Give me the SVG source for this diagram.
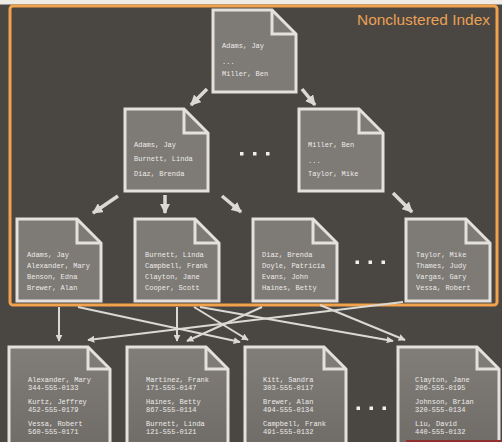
<svg xmlns="http://www.w3.org/2000/svg" width="502" height="442" viewBox="0 0 502 442">
<style>
.page{fill:#7e7a76;stroke:#e4e1dc;stroke-width:3;stroke-linejoin:miter}
.page4{fill:url(#g4);stroke:#e4e1dc;stroke-width:3}
.fold{fill:none;stroke:#e4e1dc;stroke-width:3}
.t{font-family:"Liberation Mono","DejaVu Sans Mono",monospace;font-size:7px;fill:#ecebe8}
.big{stroke:#dcd9d4;stroke-width:3.5;fill:none;marker-end:url(#ah)}
.thin{stroke:#dcd9d4;stroke-width:2;fill:none;marker-end:url(#as)}
.dot{fill:#f2f0ec}
</style>
<defs>
<linearGradient id="g4" x1="0" y1="0" x2="0" y2="1"><stop offset="0" stop-color="#817d78"/><stop offset="1" stop-color="#6f6b67"/></linearGradient>
<marker id="ah" viewBox="0 0 10 10" refX="9" refY="5" markerWidth="3" markerHeight="3" orient="auto" markerUnits="strokeWidth"><path d="M0,0 L10,5 L0,10 Z" fill="#dcd9d4"/></marker>
<marker id="as" viewBox="0 0 10 10" refX="9" refY="5" markerWidth="3.5" markerHeight="3.5" orient="auto" markerUnits="strokeWidth"><path d="M0,0 L10,5 L0,10 Z" fill="#dcd9d4"/></marker>
</defs>
<rect width="502" height="442" fill="#4a4742"/>
<rect width="502" height="4.5" fill="#efece6"/>
<rect x="10" y="6" width="487" height="299" rx="3" fill="none" stroke="#f2a24c" stroke-width="3"/>
<text x="490" y="25" text-anchor="end" font-family="'Liberation Sans','DejaVu Sans',sans-serif" font-size="14" fill="#eaa055" textLength="133" lengthAdjust="spacingAndGlyphs">Nonclustered Index</text>

<g id="connectors">
<line class="big" x1="207" y1="89" x2="191" y2="105"/>
<line class="big" x1="302" y1="89" x2="315" y2="105"/>
<line class="big" x1="118" y1="196" x2="93" y2="213"/>
<line class="big" x1="165" y1="195" x2="165" y2="213"/>
<line class="big" x1="222" y1="196" x2="241" y2="212"/>
<line class="big" x1="393" y1="193" x2="412" y2="212"/>
<line class="thin" x1="59" y1="307" x2="59" y2="341"/>
<line class="thin" x1="78" y1="307" x2="240" y2="342"/>
<line class="thin" x1="177" y1="307" x2="177" y2="341"/>
<line class="thin" x1="194" y1="307" x2="248" y2="340"/>
<line class="thin" x1="262" y1="307" x2="187" y2="341"/>
<line class="thin" x1="403" y1="302" x2="88" y2="340"/>
<line class="thin" x1="200" y1="307" x2="393" y2="341"/>
<line class="thin" x1="320" y1="305" x2="405" y2="340"/>
</g>

<g id="root">
<path class="page" d="M213,10 H272 L296,34 V92 H213 Z"/><path class="fold" d="M272,10 V34 H296"/>
<text class="t" x="222" y="47.5">Adams, Jay</text>
<text class="t" x="222" y="64">...</text>
<text class="t" x="222" y="75.5">Miller, Ben</text>
</g>

<g id="l2a">
<path class="page" d="M125,109 H184 L208,133 V191 H125 Z"/><path class="fold" d="M184,109 V133 H208"/>
<text class="t" x="134" y="146.5">Adams, Jay</text>
<text class="t" x="134" y="161">Burnett, Linda</text>
<text class="t" x="134" y="175.5">Diaz, Brenda</text>
</g>
<g id="l2dots"><rect class="dot" x="240" y="152" width="3.5" height="3.5"/><rect class="dot" x="253" y="152" width="3.5" height="3.5"/><rect class="dot" x="266" y="152" width="3.5" height="3.5"/></g>
<g id="l2b">
<path class="page" d="M299,109 H359 L383,133 V191 H299 Z"/><path class="fold" d="M359,109 V133 H383"/>
<text class="t" x="308" y="146.5">Miller, Ben</text>
<text class="t" x="308" y="163">...</text>
<text class="t" x="308" y="175.5">Taylor, Mike</text>
</g>

<g id="l3a">
<path class="page" d="M17,219 H77 L101,243 V301 H17 Z"/><path class="fold" d="M77,219 V243 H101"/>
<text class="t" x="27" y="256.5">Adams, Jay</text>
<text class="t" x="27" y="267.7">Alexander, Mary</text>
<text class="t" x="27" y="279">Benson, Edna</text>
<text class="t" x="27" y="290.2">Brewer, Alan</text>
</g>
<g id="l3b">
<path class="page" d="M135,219 H195 L219,243 V301 H135 Z"/><path class="fold" d="M195,219 V243 H219"/>
<text class="t" x="145" y="256.5">Burnett, Linda</text>
<text class="t" x="145" y="267.7">Campbell, Frank</text>
<text class="t" x="145" y="279">Clayton, Jane</text>
<text class="t" x="145" y="290.2">Cooper, Scott</text>
</g>
<g id="l3c">
<path class="page" d="M253,219 H313 L337,243 V301 H253 Z"/><path class="fold" d="M313,219 V243 H337"/>
<text class="t" x="262" y="256.5">Diaz, Brenda</text>
<text class="t" x="262" y="267.7">Doyle, Patricia</text>
<text class="t" x="262" y="279">Evans, John</text>
<text class="t" x="262" y="290.2">Haines, Betty</text>
</g>
<g id="l3dots"><rect class="dot" x="355.5" y="260.5" width="3.5" height="3.5"/><rect class="dot" x="368.5" y="260.5" width="3.5" height="3.5"/><rect class="dot" x="381.5" y="260.5" width="3.5" height="3.5"/></g>
<g id="l3d">
<path class="page" d="M406,219 H466 L490,243 V301 H406 Z"/><path class="fold" d="M466,219 V243 H490"/>
<text class="t" x="416" y="256.5">Taylor, Mike</text>
<text class="t" x="416" y="267.7">Thames, Judy</text>
<text class="t" x="416" y="279">Vargas, Gary</text>
<text class="t" x="416" y="290.2">Vessa, Robert</text>
</g>

<g id="l4a">
<path class="page4" d="M9,347 H88 L110,369 V450 H9 Z"/><path class="fold" d="M88,347 V369 H110"/>
<text class="t" x="28" y="381.5">Alexander, Mary</text>
<text class="t" x="28" y="389.5">344-555-0133</text>
<text class="t" x="28" y="403.5">Kurtz, Jeffrey</text>
<text class="t" x="28" y="411.5">452-555-0179</text>
<text class="t" x="28" y="425.5">Vessa, Robert</text>
<text class="t" x="28" y="433.5">560-555-0171</text>
</g>
<g id="l4b">
<path class="page4" d="M127,347 H206 L228,369 V450 H127 Z"/><path class="fold" d="M206,347 V369 H228"/>
<text class="t" x="146" y="381.5">Martinez, Frank</text>
<text class="t" x="146" y="389.5">171-555-0147</text>
<text class="t" x="146" y="403.5">Haines, Betty</text>
<text class="t" x="146" y="411.5">867-555-0114</text>
<text class="t" x="146" y="425.5">Burnett, Linda</text>
<text class="t" x="146" y="433.5">121-555-0121</text>
</g>
<g id="l4c">
<path class="page4" d="M245,347 H324 L346,369 V450 H245 Z"/><path class="fold" d="M324,347 V369 H346"/>
<text class="t" x="263" y="381.5">Kitt, Sandra</text>
<text class="t" x="263" y="389.5">303-555-0117</text>
<text class="t" x="263" y="403.5">Brewer, Alan</text>
<text class="t" x="263" y="411.5">494-555-0134</text>
<text class="t" x="263" y="425.5">Campbell, Frank</text>
<text class="t" x="263" y="433.5">491-555-0132</text>
</g>
<g id="l4dots"><rect class="dot" x="356.5" y="406.5" width="3.5" height="3.5"/><rect class="dot" x="369.5" y="406.5" width="3.5" height="3.5"/><rect class="dot" x="382.5" y="406.5" width="3.5" height="3.5"/></g>
<g id="l4d">
<path class="page4" d="M398,347 H477 L499,369 V450 H398 Z"/><path class="fold" d="M477,347 V369 H499"/>
<text class="t" x="415" y="381.5">Clayton, Jane</text>
<text class="t" x="415" y="389.5">206-555-0195</text>
<text class="t" x="415" y="403.5">Johnson, Brian</text>
<text class="t" x="415" y="411.5">320-555-0134</text>
<text class="t" x="415" y="425.5">Liu, David</text>
<text class="t" x="415" y="433.5">440-555-0132</text>
</g>
<rect x="406" y="440" width="96" height="2" fill="#8e3030"/>
</svg>
